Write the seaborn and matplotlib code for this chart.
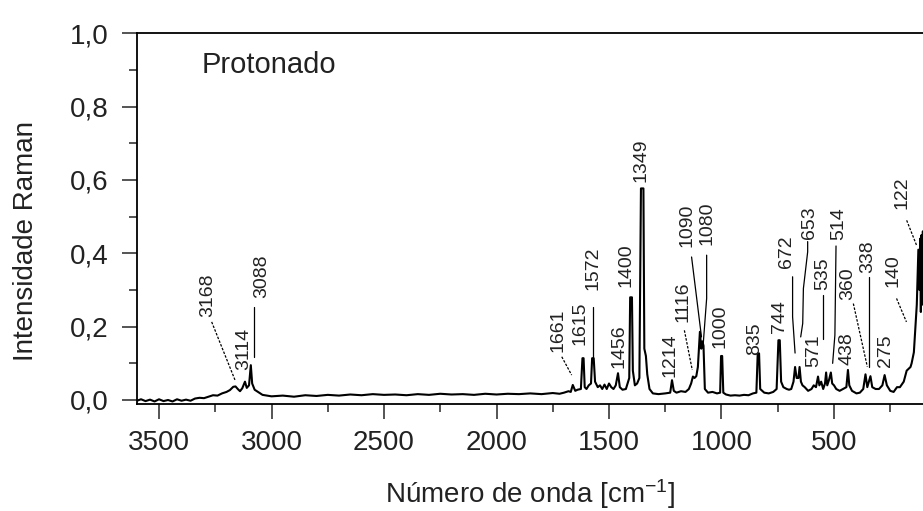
import numpy as np
import pandas as pd
import matplotlib
matplotlib.use("Agg")
import matplotlib.pyplot as plt
from matplotlib.ticker import MultipleLocator, FuncFormatter
import seaborn as sns

# --- spectrum (wavenumber in cm-1, Raman intensity) ---
wavenumber = [
    3598, 3580, 3560, 3540, 3520, 3500, 3480, 3460, 3440, 3420, 3400, 3380,
    3360, 3340, 3320, 3300, 3280, 3260, 3240, 3220, 3200, 3185, 3170, 3160,
    3150, 3140, 3130, 3118, 3110, 3100, 3092, 3086, 3075, 3060, 3040, 3020,
    3000, 2950, 2900, 2850, 2800, 2750, 2700, 2650, 2600, 2550, 2500, 2450,
    2400, 2350, 2300, 2250, 2200, 2150, 2100, 2050, 2000, 1950, 1900, 1850,
    1800, 1750, 1720, 1700, 1680, 1670, 1661, 1650, 1640, 1625, 1618, 1613,
    1608, 1600, 1590, 1580, 1575, 1568, 1562, 1550, 1540, 1530, 1520, 1510,
    1500, 1490, 1480, 1470, 1460, 1452, 1440, 1425, 1410, 1406, 1398, 1394,
    1385, 1375, 1365, 1358, 1347, 1343, 1336, 1330, 1320, 1305, 1280, 1250,
    1228, 1220, 1212, 1200, 1180, 1160, 1145, 1135, 1127, 1120, 1112, 1105,
    1096, 1090, 1085, 1080, 1074, 1060, 1040, 1020, 1006, 1002, 997, 992,
    980, 960, 940, 920, 900, 880, 860, 845, 839, 833, 828, 810,
    790, 770, 755, 747, 741, 735, 725, 710, 700, 690, 680, 673,
    666, 658, 653, 647, 640, 630, 615, 600, 590, 580, 571, 565,
    557, 548, 540, 535, 530, 522, 514, 508, 500, 490, 475, 460,
    445, 438, 432, 420, 400, 385, 370, 360, 352, 345, 338, 330,
    315, 300, 285, 275, 265, 250, 235, 220, 207, 190, 177, 160,
    155, 145, 140, 132, 125, 120, 117, 114, 111, 108, 105, 102,
]
intensity = [
    -0.002, 0.002, -0.003, 0.001, -0.004, 0.002, -0.003, 0.000, -0.004, 0.002, -0.002, 0.001,
    -0.002, 0.004, 0.006, 0.005, 0.009, 0.013, 0.012, 0.018, 0.022, 0.027, 0.036, 0.037,
    0.030, 0.024, 0.032, 0.050, 0.033, 0.040, 0.095, 0.045, 0.028, 0.022, 0.014, 0.012,
    0.010, 0.012, 0.009, 0.013, 0.011, 0.014, 0.012, 0.015, 0.013, 0.016, 0.014, 0.015,
    0.013, 0.016, 0.014, 0.017, 0.015, 0.016, 0.014, 0.017, 0.015, 0.017, 0.016, 0.018,
    0.016, 0.019, 0.017, 0.020, 0.024, 0.022, 0.041, 0.025, 0.028, 0.030, 0.114, 0.114,
    0.035, 0.030, 0.040, 0.045, 0.114, 0.114, 0.050, 0.035, 0.040, 0.030, 0.042, 0.030,
    0.045, 0.035, 0.030, 0.040, 0.073, 0.035, 0.028, 0.030, 0.060, 0.280, 0.280, 0.080,
    0.040, 0.045, 0.060, 0.577, 0.577, 0.140, 0.120, 0.070, 0.030, 0.018, 0.016, 0.018,
    0.020, 0.054, 0.025, 0.020, 0.024, 0.022, 0.030, 0.045, 0.064, 0.060, 0.065, 0.090,
    0.186, 0.140, 0.160, 0.148, 0.030, 0.020, 0.022, 0.018, 0.020, 0.120, 0.120, 0.020,
    0.015, 0.012, 0.013, 0.012, 0.014, 0.013, 0.018, 0.020, 0.127, 0.127, 0.030, 0.020,
    0.018, 0.022, 0.030, 0.163, 0.163, 0.050, 0.035, 0.030, 0.028, 0.030, 0.050, 0.090,
    0.060, 0.060, 0.090, 0.050, 0.040, 0.035, 0.025, 0.030, 0.040, 0.035, 0.064, 0.040,
    0.050, 0.030, 0.045, 0.075, 0.040, 0.055, 0.075, 0.045, 0.040, 0.030, 0.025, 0.030,
    0.035, 0.082, 0.040, 0.025, 0.018, 0.020, 0.030, 0.070, 0.035, 0.050, 0.065, 0.035,
    0.030, 0.030, 0.040, 0.068, 0.040, 0.025, 0.022, 0.035, 0.035, 0.050, 0.080, 0.090,
    0.100, 0.130, 0.180, 0.260, 0.410, 0.300, 0.440, 0.240, 0.450, 0.260, 0.460, 0.300,
]

# peak labels: text, label centre (cm-1), label bottom (intensity)
peak_labels = ["3168", "3114", "3088", "1661", "1615", "1572", "1456", "1400",
               "1349", "1214", "1116", "1090", "1080", "1000", "835", "744",
               "672", "653", "571", "535", "514", "438", "360", "338", "275",
               "140", "122"]
label_x = [3285, 3122, 3044, 1727, 1629, 1573, 1454, 1424,
           1359, 1229, 1170, 1155, 1066, 1007, 854, 743,
           710, 610, 592, 548, 478, 440, 437, 348, 273,
           239, 199]
label_y = [0.227, 0.082, 0.277, 0.132, 0.150, 0.300, 0.086, 0.309,
           0.595, 0.064, 0.213, 0.418, 0.422, 0.141, 0.123, 0.182,
           0.360, 0.440, 0.090, 0.300, 0.436, 0.095, 0.272, 0.345, 0.090,
           0.309, 0.520]

# leader lines from label to peak
leaders = {
    "3168": ([3266, 3162], [0.213, 0.054], "--"),
    "3088": ([3078, 3078], [0.254, 0.118], "-"),
    "1661": ([1710, 1666], [0.118, 0.068], "--"),
    "1572": ([1570, 1570], [0.254, 0.118], "-"),
    "1116": ([1165, 1130], [0.190, 0.082], "--"),
    "1090": ([1133, 1089], [0.390, 0.172], "-"),
    "1080": ([1066, 1066, 1081], [0.395, 0.277, 0.155], "-"),
    "672": ([684, 684, 673], [0.336, 0.227, 0.128], "-"),
    "653": ([617, 617, 636, 639, 648], [0.432, 0.404, 0.304, 0.209, 0.172], "-"),
    "535": ([548, 548], [0.286, 0.165], "-"),
    "514": ([491, 496, 506], [0.420, 0.177, 0.100], "-"),
    "360": ([414, 352], [0.263, 0.091], "--"),
    "338": ([343, 343], [0.336, 0.090], "-"),
    "140": ([222, 178], [0.277, 0.213], "--"),
    "122": ([177, 133], [0.490, 0.422], "--"),
}

df = pd.DataFrame({"wavenumber": wavenumber, "intensity": intensity})

sns.set_style("ticks")
plt.rcParams['font.family'] = ['Liberation Sans', 'DejaVu Sans']
plt.rcParams['mathtext.default'] = 'regular'

fig = plt.figure(figsize=(9.23, 5.11), dpi=100)
ax = fig.add_axes([0.1484, 0.2094, 0.8516, 0.7254])

sns.lineplot(data=df, x="wavenumber", y="intensity", ax=ax, color="black",
             lw=1.5, estimator=None)

for xs, ys, ls in leaders.values():
    ax.plot(xs, ys, color="black", lw=0.9, ls=ls, dashes=(2, 1.2) if ls == "--" else (None, None))

for txt, tx, ty in zip(peak_labels, label_x, label_y):
    ax.text(tx, ty, txt, rotation=90, ha="center", va="bottom", fontsize=14, color="#222222")

ax.text(3310, 0.891, "Protonado", fontsize=21, ha="left", va="baseline", color="#222222")

ax.set_xlim(3598, 104.4)
ax.set_ylim(-0.0109, 1.0)
ax.xaxis.set_major_locator(MultipleLocator(500))
ax.xaxis.set_minor_locator(MultipleLocator(250))
ax.yaxis.set_major_locator(MultipleLocator(0.2))
ax.yaxis.set_minor_locator(MultipleLocator(0.1))
ax.yaxis.set_major_formatter(FuncFormatter(lambda v, p: f"{v:.1f}".replace(".", ",")))

ax.tick_params(axis="both", which="major", direction="out", length=11, width=1.1,
               labelsize=20, labelcolor="#222222")
ax.tick_params(axis="both", which="minor", direction="out", length=6, width=1.1)
ax.tick_params(axis="x", which="major", pad=8)
ax.tick_params(axis="y", which="major", pad=9.5)

for side in ["left", "bottom", "top"]:
    ax.spines[side].set_linewidth(1.3)
    ax.spines[side].set_color("black")
ax.spines["right"].set_visible(False)

ax.set_xlabel("Número de onda [cm$^{-1}$]", fontsize=20, color="#222222")
ax.set_ylabel("Intensidade Raman", fontsize=20, color="#222222")
ax.xaxis.label.set_verticalalignment("baseline")
ax.xaxis.set_label_coords(0.5, -0.266)
ax.yaxis.set_label_coords(-0.1247, 0.439)

fig.savefig("out.png", dpi=100)
